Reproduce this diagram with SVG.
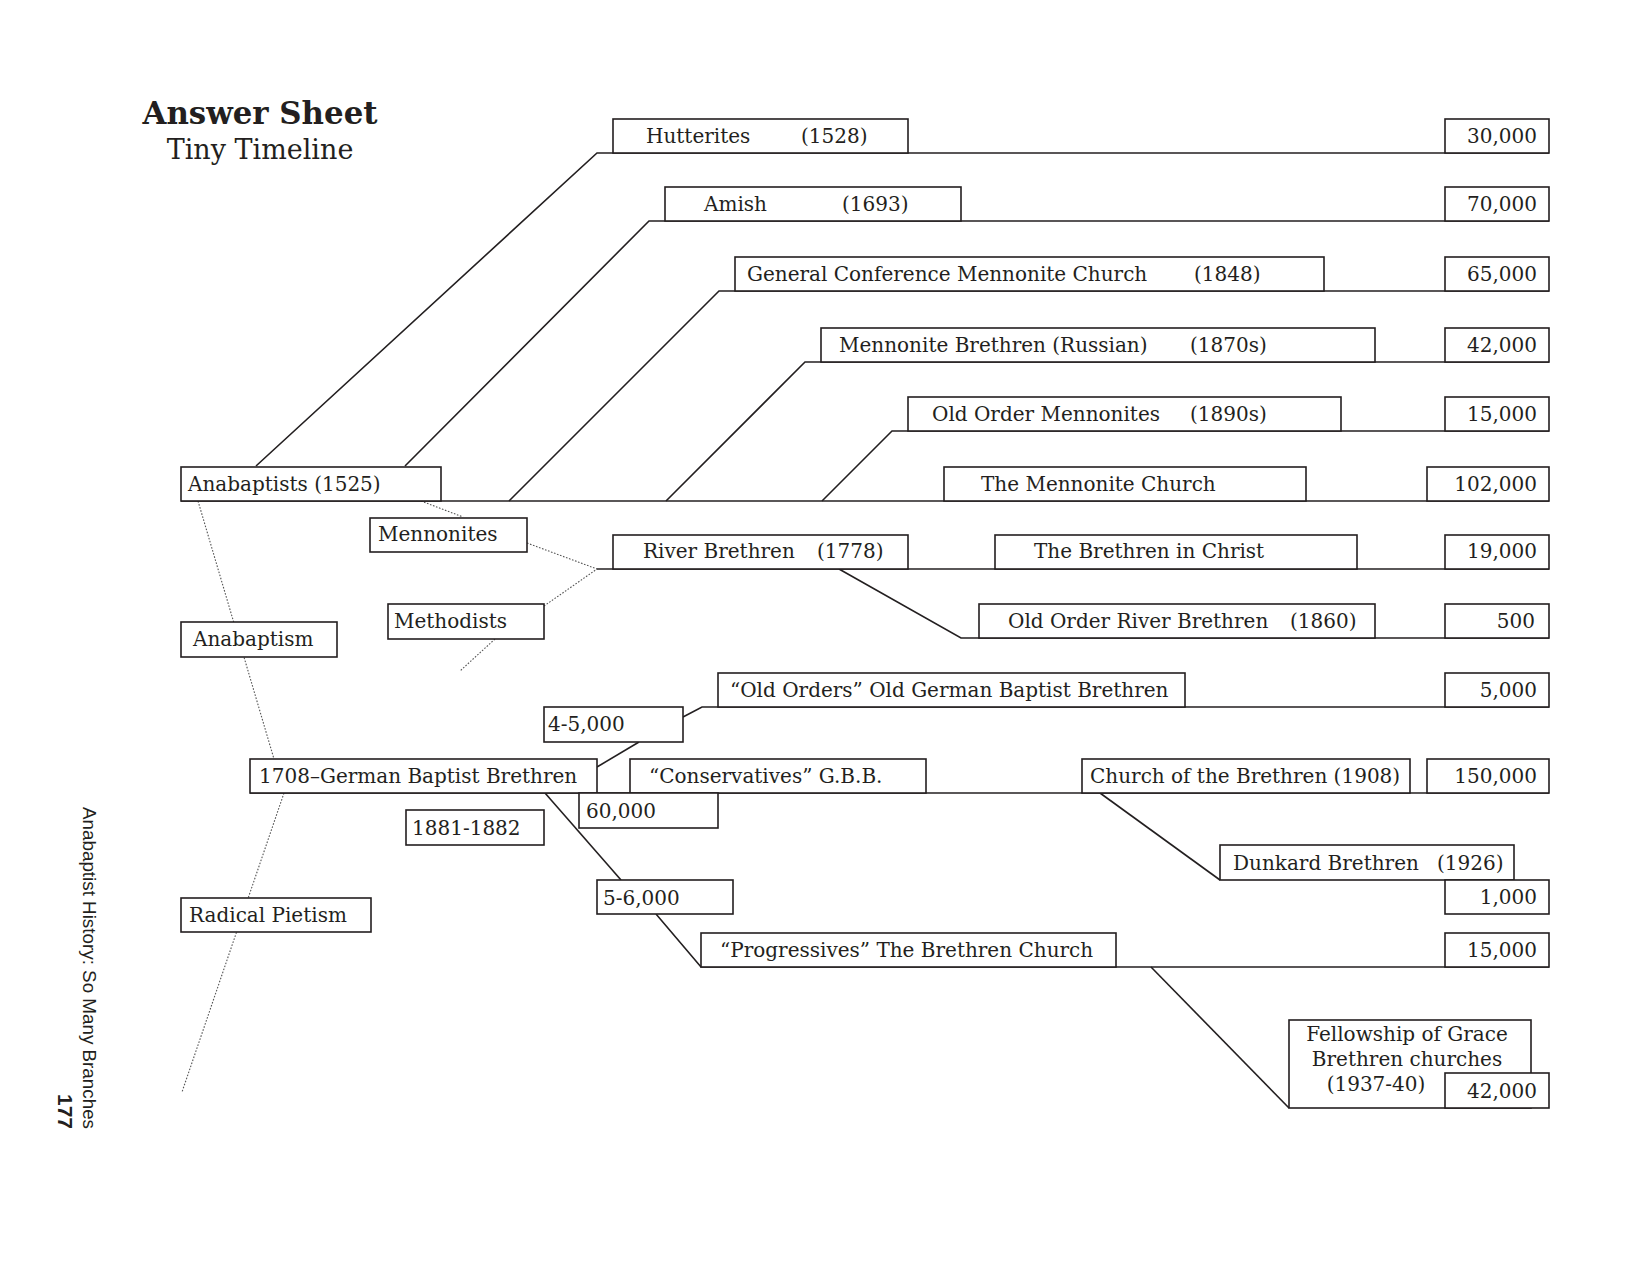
<svg xmlns="http://www.w3.org/2000/svg" width="1650" height="1275" viewBox="0 0 1650 1275">
<style>
.box{fill:#fff;stroke:#231f20;stroke-width:1.6}
.ln{fill:none;stroke:#231f20;stroke-width:1.6}
.dot{fill:none;stroke:#555;stroke-width:1.1;stroke-dasharray:1.6 1.6}
.t{font-family:"DejaVu Serif","Liberation Serif",serif;font-size:20px;fill:#231f20}
.n{font-family:"DejaVu Serif","Liberation Serif",serif;font-size:20px;fill:#231f20;text-anchor:end}
.c{text-anchor:middle}
</style>
<rect width="1650" height="1275" fill="#fff"/>
<g id="title">
<text x="260" y="124" text-anchor="middle" font-family="DejaVu Serif, serif" font-weight="bold" font-size="32" fill="#231f20" textLength="235" lengthAdjust="spacingAndGlyphs">Answer Sheet</text>
<text x="260" y="159" text-anchor="middle" font-family="DejaVu Serif, serif" font-size="27" fill="#231f20">Tiny Timeline</text>
</g>
<g id="connectors">
<path class="dot" d="M198,501 L274,759"/>
<path class="dot" d="M284,793 L182,1092"/>
<path class="dot" d="M421,501 L463,517"/>
<path class="dot" d="M527,543 L597,569"/>
<path class="dot" d="M544,606 L597,569"/>
<path class="dot" d="M495,639 L460,671"/>
<path class="ln" d="M256,466 L597,153 L1549,153"/>
<path class="ln" d="M405,466 L649,221 L1549,221"/>
<path class="ln" d="M509,501 L719,291 L1549,291"/>
<path class="ln" d="M666,501 L805,362 L1549,362"/>
<path class="ln" d="M822,501 L892,431 L1549,431"/>
<path class="ln" d="M181,501 L1549,501"/>
<path class="ln" d="M597,569 L1549,569"/>
<path class="ln" d="M839,569 L961,638 L1549,638"/>
<path class="ln" d="M683,717 L702,707 L1549,707"/>
<path class="ln" d="M639,742 L597,767"/>
<path class="ln" d="M250,793 L1549,793"/>
<path class="ln" d="M545,793 L621,880"/>
<path class="ln" d="M656,914 L701,967 L1549,967"/>
<path class="ln" d="M1100,793 L1220,880"/>
<path class="ln" d="M1151,967 L1289,1108"/>
</g>
<g id="hutterites"><rect class="box" x="613" y="119" width="295" height="34"/><text class="t" x="646" y="143">Hutterites</text><text class="t" x="801" y="143">(1528)</text></g>
<g id="n30000"><rect class="box" x="1445" y="119" width="104" height="34"/><text class="n" x="1537" y="143">30,000</text></g>
<g id="amish"><rect class="box" x="665" y="187" width="296" height="34"/><text class="t" x="704" y="211">Amish</text><text class="t" x="842" y="211">(1693)</text></g>
<g id="n70000"><rect class="box" x="1445" y="187" width="104" height="34"/><text class="n" x="1537" y="211">70,000</text></g>
<g id="gcmc"><rect class="box" x="735" y="257" width="589" height="34"/><text class="t" x="747" y="281">General Conference Mennonite Church</text><text class="t" x="1194" y="281">(1848)</text></g>
<g id="n65000"><rect class="box" x="1445" y="257" width="104" height="34"/><text class="n" x="1537" y="281">65,000</text></g>
<g id="mbr"><rect class="box" x="821" y="328" width="554" height="34"/><text class="t" x="839" y="352">Mennonite Brethren (Russian)</text><text class="t" x="1190" y="352">(1870s)</text></g>
<g id="n42000a"><rect class="box" x="1445" y="328" width="104" height="34"/><text class="n" x="1537" y="352">42,000</text></g>
<g id="oom"><rect class="box" x="908" y="397" width="433" height="34"/><text class="t" x="932" y="421">Old Order Mennonites</text><text class="t" x="1190" y="421">(1890s)</text></g>
<g id="n15000a"><rect class="box" x="1445" y="397" width="104" height="34"/><text class="n" x="1537" y="421">15,000</text></g>
<g id="mennonite-church"><rect class="box" x="944" y="467" width="362" height="34"/><text class="t" x="981" y="491">The Mennonite Church</text></g>
<g id="n102000"><rect class="box" x="1427" y="467" width="122" height="34"/><text class="n" x="1537" y="491">102,000</text></g>
<g id="anabaptists"><rect class="box" x="181" y="467" width="260" height="34"/><text class="t" x="188" y="491">Anabaptists (1525)</text></g>
<g id="mennonites"><rect class="box" x="370" y="518" width="157" height="34"/><text class="t" x="378" y="541">Mennonites</text></g>
<g id="river-brethren"><rect class="box" x="613" y="535" width="295" height="34"/><text class="t" x="643" y="558">River Brethren</text><text class="t" x="817" y="558">(1778)</text></g>
<g id="bic"><rect class="box" x="995" y="535" width="362" height="34"/><text class="t" x="1034" y="558">The Brethren in Christ</text></g>
<g id="n19000"><rect class="box" x="1445" y="535" width="104" height="34"/><text class="n" x="1537" y="558">19,000</text></g>
<g id="methodists"><rect class="box" x="388" y="604" width="156" height="35"/><text class="t" x="394" y="628">Methodists</text></g>
<g id="anabaptism"><rect class="box" x="181" y="622" width="156" height="35"/><text class="t" x="193" y="646">Anabaptism</text></g>
<g id="oorb"><rect class="box" x="979" y="604" width="396" height="34"/><text class="t" x="1008" y="628">Old Order River Brethren</text><text class="t" x="1290" y="628">(1860)</text></g>
<g id="n500"><rect class="box" x="1445" y="604" width="104" height="34"/><text class="n" x="1535" y="628">500</text></g>
<g id="old-orders"><rect class="box" x="718" y="673" width="467" height="34"/><text class="t" x="730" y="697">“Old Orders” Old German Baptist Brethren</text></g>
<g id="n5000"><rect class="box" x="1445" y="673" width="104" height="34"/><text class="n" x="1537" y="697">5,000</text></g>
<g id="n4-5000"><rect class="box" x="544" y="707" width="139" height="35"/><text class="t" x="548" y="731">4-5,000</text></g>
<g id="gbb"><rect class="box" x="250" y="759" width="347" height="34"/><text class="t" x="259" y="783">1708–German Baptist Brethren</text></g>
<g id="conservatives"><rect class="box" x="630" y="759" width="296" height="34"/><text class="t" x="649" y="783">“Conservatives” G.B.B.</text></g>
<g id="n60000"><rect class="box" x="579" y="793" width="139" height="35"/><text class="t" x="586" y="818">60,000</text></g>
<g id="cob"><rect class="box" x="1082" y="759" width="328" height="34"/><text class="t" x="1090" y="783">Church of the Brethren (1908)</text></g>
<g id="n150000"><rect class="box" x="1427" y="759" width="122" height="34"/><text class="n" x="1537" y="783">150,000</text></g>
<g id="y1881"><rect class="box" x="406" y="810" width="138" height="35"/><text class="t" x="412" y="835">1881-1882</text></g>
<g id="dunkard"><rect class="box" x="1220" y="845" width="294" height="35"/><text class="t" x="1233" y="870">Dunkard Brethren</text><text class="t" x="1437" y="870">(1926)</text></g>
<g id="n1000"><rect class="box" x="1445" y="880" width="104" height="34"/><text class="n" x="1537" y="904">1,000</text></g>
<g id="n5-6000"><rect class="box" x="597" y="880" width="136" height="34"/><text class="t" x="603" y="905">5-6,000</text></g>
<g id="radical-pietism"><rect class="box" x="181" y="898" width="190" height="34"/><text class="t" x="189" y="922">Radical Pietism</text></g>
<g id="progressives"><rect class="box" x="701" y="933" width="415" height="34"/><text class="t" x="720" y="957">“Progressives” The Brethren Church</text></g>
<g id="n15000b"><rect class="box" x="1445" y="933" width="104" height="34"/><text class="n" x="1537" y="957">15,000</text></g>
<g id="fellowship"><rect class="box" x="1289" y="1020" width="242" height="88"/><text class="t c" x="1407" y="1041">Fellowship of Grace</text><text class="t c" x="1407" y="1066">Brethren churches</text><text class="t c" x="1376" y="1091">(1937-40)</text></g>
<g id="n42000b"><rect class="box" x="1445" y="1073" width="104" height="35"/><text class="n" x="1537" y="1098">42,000</text></g>
<g id="footer">
<text transform="translate(83,807) rotate(90)" font-family="Liberation Sans, Arial, sans-serif" font-size="19" fill="#231f20" textLength="322" lengthAdjust="spacingAndGlyphs">Anabaptist History: So Many Branches</text>
<text transform="translate(58,1129) rotate(90)" text-anchor="end" font-family="Liberation Sans, Arial, sans-serif" font-weight="bold" font-size="21" fill="#231f20">177</text>
</g>
</svg>
